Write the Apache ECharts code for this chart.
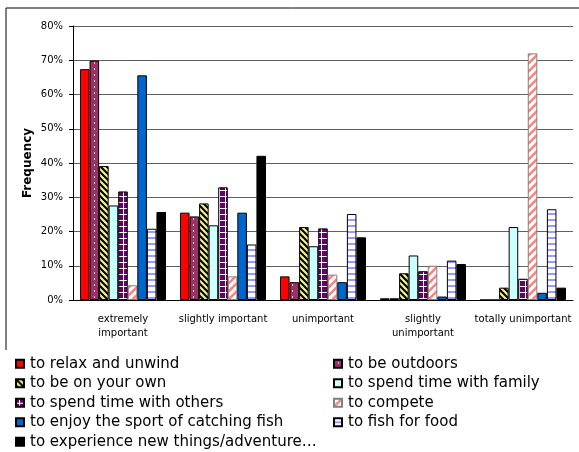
<!DOCTYPE html>
<html>
<head>
<meta charset="utf-8">
<script src="https://cdn.jsdelivr.net/npm/echarts@6/dist/echarts.min.js"></script>
<style>
  html, body { margin: 0; padding: 0; background: #fff; }
  #chart { width: 579px; height: 452px; }
</style>
</head>
<body>
<div id="chart"></div>
<script>
// categories and tick labels
var categories = ['extremely\nimportant', 'slightly important', 'unimportant', 'slightly\nunimportant', 'totally unimportant']
var yTicks = [0, 10, 20, 30, 40, 50, 60, 70, 80]

// series values (% frequency)
var relax     = [67.4, 25.5, 6.9, 0.5, 0]
var outdoors  = [69.9, 24.4, 5.2, 0.5, 0]
var ownOwn    = [39.1, 28.2, 21.3, 7.8, 3.6]
var family    = [27.6, 21.8, 15.7, 13.0, 21.3]
var others    = [31.7, 32.9, 20.9, 8.4, 6.2]
var compete   = [4.3, 6.9, 7.4, 10.0, 72.0]
var sport     = [65.6, 25.5, 5.2, 1.0, 2.1]
var fishFood  = [20.8, 16.2, 25.1, 11.5, 26.5]
var newThings = [25.7, 42.1, 18.3, 10.5, 3.6]

var seriesNames = ['to relax and unwind', 'to be outdoors', 'to be on your own', 'to spend time with family',
  'to spend time with others', 'to compete', 'to enjoy the sport of catching fish', 'to fish for food',
  'to experience new things/adventure\u2026']

// small canvas fills that mimic the excel patterns
function pattern(w, h, draw) {
  var c = document.createElement('canvas')
  c.width = w
  c.height = h
  draw(c.getContext('2d'))
  return { image: c, repeat: 'repeat' }
}
var dots = pattern(9, 6, function (g) {
  g.fillStyle = '#993366'; g.fillRect(0, 0, 9, 6)
  g.fillStyle = '#e8c8d8'; g.fillRect(4, 2, 1, 2)
})
var backStripes = pattern(6, 6, function (g) {
  g.fillStyle = '#f2f28a'; g.fillRect(0, 0, 6, 6)
  g.strokeStyle = '#000'; g.lineWidth = 2
  g.beginPath()
  g.moveTo(-1, -1); g.lineTo(7, 7)
  g.moveTo(-4, 2); g.lineTo(4, 10)
  g.moveTo(2, -4); g.lineTo(10, 4)
  g.stroke()
})
var grid = pattern(6, 6, function (g) {
  g.fillStyle = '#660066'; g.fillRect(0, 0, 6, 6)
  g.fillStyle = '#ffffff'; g.fillRect(0, 4, 6, 1); g.fillRect(3, 0, 1, 6)
})
var fwdStripes = pattern(8, 8, function (g) {
  g.fillStyle = '#ffffff'; g.fillRect(0, 0, 8, 8)
  g.strokeStyle = '#ff8080'; g.lineWidth = 2.5
  g.beginPath()
  g.moveTo(-1, 9); g.lineTo(9, -1)
  g.moveTo(-5, 5); g.lineTo(5, -5)
  g.moveTo(3, 13); g.lineTo(13, 3)
  g.stroke()
})
var hLines = pattern(4, 6, function (g) {
  g.fillStyle = '#ffffff'; g.fillRect(0, 0, 4, 6)
  g.fillStyle = '#9999ff'; g.fillRect(0, 3, 4, 2)
})

var values = [relax, outdoors, ownOwn, family, others, compete, sport, fishFood, newThings]
var fills = ['#ff0000', dots, backStripes, '#ccffff', grid, fwdStripes, '#0066cc', hLines, '#000000']
var borders = ['#000', '#000', '#000', '#000', '#000', '#808080', '#000', '#000', '#000']

var legendBase = {
  orient: 'vertical',
  top: 354,
  height: 100,
  padding: 0,
  itemWidth: 8,
  itemHeight: 8,
  itemGap: 0,
  icon: 'rect',
  textStyle: { fontFamily: 'DejaVu Sans', fontSize: 15, lineHeight: 19.5, color: '#000', padding: [0, 0, 0, 1] }
}

var chart = echarts.init(document.getElementById('chart'))
chart.setOption({
  backgroundColor: '#fff',
  animation: false,
  textStyle: { fontFamily: 'DejaVu Sans, sans-serif', color: '#000' },
  graphic: [
    { type: 'line', shape: { x1: 6, y1: 8, x2: 579, y2: 8 }, style: { stroke: '#000', lineWidth: 1 } },
    { type: 'line', shape: { x1: 6, y1: 8, x2: 6, y2: 350 }, style: { stroke: '#000', lineWidth: 1 } }
  ],
  grid: { left: 73, right: 6, top: 26, bottom: 152 },
  legend: [
    Object.assign({}, legendBase, { left: 15, data: seriesNames.filter(function (n, i) { return i % 2 === 0 }) }),
    Object.assign({}, legendBase, { left: 333, data: seriesNames.filter(function (n, i) { return i % 2 === 1 }) })
  ],
  xAxis: {
    type: 'category',
    data: categories,
    axisLine: { lineStyle: { color: '#000' } },
    axisTick: { length: 4, lineStyle: { color: '#000' } },
    axisLabel: { fontFamily: 'DejaVu Sans', fontSize: 10, lineHeight: 14, margin: 12, color: '#000', interval: 0 }
  },
  yAxis: {
    type: 'value',
    min: yTicks[0],
    max: yTicks[yTicks.length - 1],
    interval: 10,
    name: 'Frequency',
    nameLocation: 'middle',
    nameMoveOverlap: false,
    nameGap: 39,
    nameTextStyle: { fontFamily: 'DejaVu Sans', fontSize: 12, fontWeight: 'bold', color: '#000' },
    axisLine: { show: true, lineStyle: { color: '#000' } },
    axisTick: { show: true, length: 4, lineStyle: { color: '#000' } },
    axisLabel: { fontFamily: 'DejaVu Sans', fontSize: 10, margin: 10, color: '#000', formatter: '{value}%' },
    splitLine: { lineStyle: { color: '#606060' } }
  },
  series: values.map(function (v, i) {
    return {
      name: seriesNames[i],
      type: 'bar',
      data: v,
      barGap: 0,
      barCategoryGap: '14%',
      itemStyle: { color: fills[i], borderColor: borders[i], borderWidth: 1 }
    }
  })
})
</script>
</body>
</html>
